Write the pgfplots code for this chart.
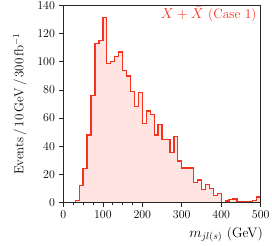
\documentclass[border=0pt]{standalone}
\usepackage{pgfplots}
\pgfplotsset{compat=1.18}
\definecolor{hred}{RGB}{245,50,30}
\definecolor{hfill}{RGB}{255,228,225}
\begin{document}
\fontsize{13}{15}\selectfont
\begin{tikzpicture}
\useasboundingbox (-63.4bp,-43.5bp) rectangle (208.6bp,202.5bp);
\begin{axis}[
  at={(0,0)}, anchor=south west,
  width=197.3bp, height=197bp, scale only axis,
  xmin=0, xmax=500, ymin=0, ymax=140,
  xtick={0,100,...,500}, ytick={0,20,...,140},
  minor xtick={25,50,75,125,150,175},
  tick align=outside, tick pos=left,
  major tick length=4bp, minor tick length=2.5bp,
  axis on top,
  axis line style={line width=0.8pt, black!85},
  every tick/.style={black!85, line width=0.7pt},
  ylabel={Events\,/\,10\,GeV\,/\,300\,fb$^{-1}$},
  ylabel style={at={(axis description cs:-0.22,0.5)}, anchor=center},
  xlabel={$m_{jl(s)}$ (GeV)},
  xlabel style={at={(axis description cs:1,0)}, anchor=base east, inner sep=0pt, xshift=2.3bp, yshift=-34.5bp},
  tick label style={font=\fontsize{13}{15}\selectfont},
  ylabel style={font=\fontsize{13}{15}\selectfont},
  xlabel style={font=\fontsize{13.8}{16}\selectfont},
]
\addplot[const plot, draw=hred, fill=hfill, line width=1.3pt] coordinates {
(0,0) (10,0) (20,0) (30,1.5) (40,12) (50,24) (60,48) (70,76) (80,113) (90,115)
(100,131.5) (110,99) (120,100) (130,104) (140,107) (150,94) (160,90) (170,79) (180,68) (190,78)
(200,56) (210,65) (220,62.5) (230,48) (240,55.5) (250,45) (260,45) (270,35.5) (280,47) (290,29.5)
(300,24.6) (310,24.6) (320,24.6) (330,14) (340,16) (350,9) (360,13) (370,10) (380,5) (390,6.5)
(400,0) (410,1) (420,2) (430,2.5) (440,0.5) (450,0.5) (460,0.5) (470,0.5) (480,1.5) (490,4) (500,4)
} \closedcycle;
\node[anchor=base east, text=hred, inner sep=0pt, font=\fontsize{13.5}{16}\selectfont] at ([xshift=-4bp,yshift=-13.5bp]axis description cs:1,1) {$X+\bar{X}$ (Case~1)};
\end{axis}
\end{tikzpicture}
\end{document}
